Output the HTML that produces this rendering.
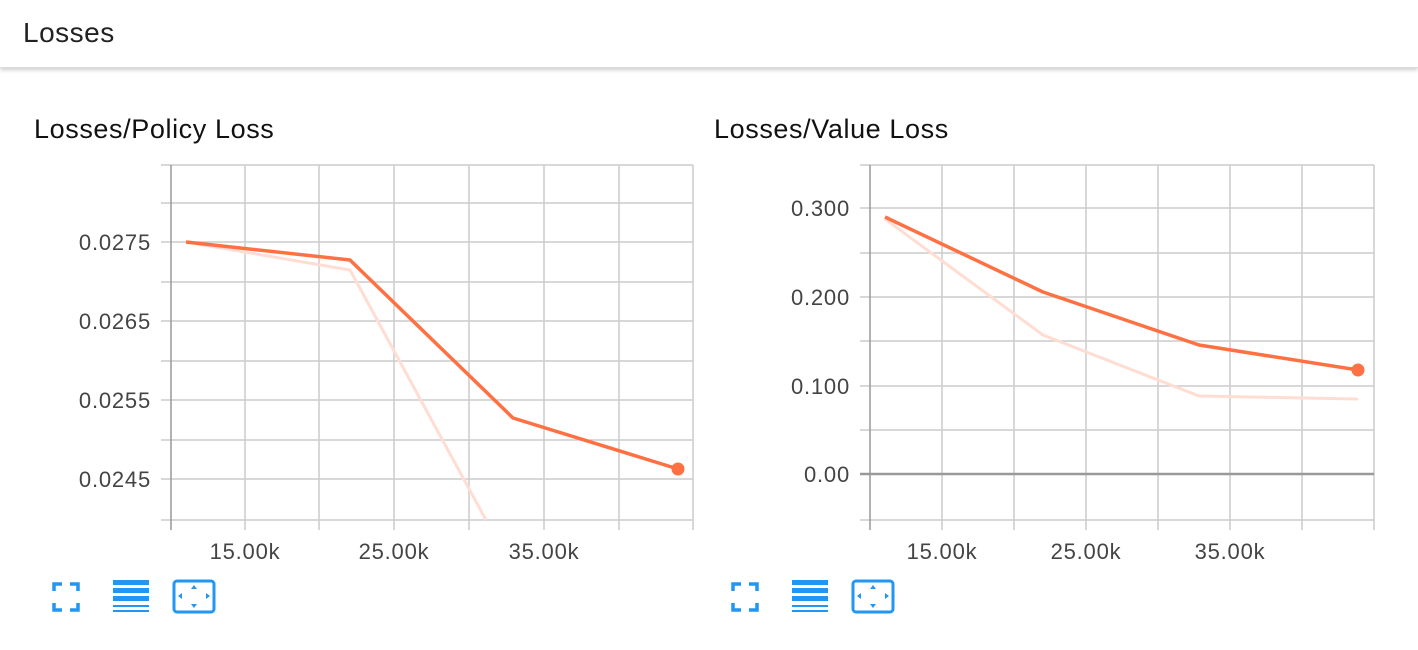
<!DOCTYPE html>
<html><head><style>
body{margin:0;width:1418px;height:650px;background:#fff;font-family:"Liberation Sans",sans-serif;overflow:hidden;position:relative}
.hdr{position:absolute;left:0;top:0;width:1418px;height:67px;background:#fff;box-shadow:0 2px 4px rgba(0,0,0,0.2);border-bottom:1px solid #ddd}
.hdr span{position:absolute;left:23px;top:17px;font-size:28px;color:#222;letter-spacing:0.5px}
</style></head><body>
<div class="hdr"><span>Losses</span></div>
<svg width="1418" height="650" style="position:absolute;left:0;top:0" font-family="Liberation Sans, sans-serif">
<text x="34" y="138" font-size="27" fill="#111" letter-spacing="0.6">Losses/Policy Loss</text>
<text x="714" y="138" font-size="27" fill="#111" letter-spacing="0.6">Losses/Value Loss</text>
<g stroke="#ccc" stroke-width="1.5">
<line x1="245" y1="165" x2="245" y2="530"/><line x1="319" y1="165" x2="319" y2="530"/><line x1="394" y1="165" x2="394" y2="530"/><line x1="469" y1="165" x2="469" y2="530"/><line x1="544" y1="165" x2="544" y2="530"/><line x1="619" y1="165" x2="619" y2="530"/><line x1="693" y1="165" x2="693" y2="530"/>
<line x1="161" y1="165" x2="693" y2="165"/><line x1="161" y1="203" x2="693" y2="203"/><line x1="161" y1="242" x2="693" y2="242"/><line x1="161" y1="282" x2="693" y2="282"/><line x1="161" y1="321" x2="693" y2="321"/><line x1="161" y1="361" x2="693" y2="361"/><line x1="161" y1="400" x2="693" y2="400"/><line x1="161" y1="440" x2="693" y2="440"/><line x1="161" y1="479" x2="693" y2="479"/><line x1="161" y1="520" x2="693" y2="520"/>
<line x1="942" y1="165" x2="942" y2="530"/><line x1="1014" y1="165" x2="1014" y2="530"/><line x1="1086" y1="165" x2="1086" y2="530"/><line x1="1158" y1="165" x2="1158" y2="530"/><line x1="1230" y1="165" x2="1230" y2="530"/><line x1="1302" y1="165" x2="1302" y2="530"/><line x1="1374" y1="165" x2="1374" y2="530"/>
<line x1="860" y1="165" x2="1374" y2="165"/><line x1="860" y1="208" x2="1374" y2="208"/><line x1="860" y1="253" x2="1374" y2="253"/><line x1="860" y1="297" x2="1374" y2="297"/><line x1="860" y1="341" x2="1374" y2="341"/><line x1="860" y1="386" x2="1374" y2="386"/><line x1="860" y1="430" x2="1374" y2="430"/><line x1="860" y1="520" x2="1374" y2="520"/>
</g>
<g stroke="#999" stroke-width="1.5"><line x1="171" y1="165" x2="171" y2="530"/><line x1="870" y1="165" x2="870" y2="530"/></g>
<line x1="860" y1="474" x2="1374" y2="474" stroke="#999" stroke-width="2.5"/>
<g font-size="22" fill="#444" text-anchor="end" letter-spacing="0.8">
<text x="151" y="250">0.0275</text><text x="151" y="329">0.0265</text><text x="151" y="408">0.0255</text><text x="151" y="487">0.0245</text>
<text x="850" y="216">0.300</text><text x="850" y="305">0.200</text><text x="850" y="394">0.100</text><text x="850" y="482">0.00</text>
</g>
<g font-size="22" fill="#444" text-anchor="middle" letter-spacing="0.8">
<text x="245" y="559">15.00k</text><text x="394" y="559">25.00k</text><text x="544" y="559">35.00k</text>
<text x="942" y="559">15.00k</text><text x="1086" y="559">25.00k</text><text x="1230" y="559">35.00k</text>
</g>
<g fill="none" stroke="#ffddd3" stroke-width="3">
<polyline points="186,242 350,270 486,520"/>
<polyline points="885,219 1043,335 1199,396 1358,399"/>
</g>
<g fill="none" stroke="#ff7043" stroke-width="3.5" stroke-linejoin="round">
<polyline points="186,242 350,260 513,418 678,469"/>
<polyline points="885,217 1043,292 1199,345 1358,370"/>
</g>
<circle cx="678" cy="469" r="6.5" fill="#ff7043"/><circle cx="1358" cy="370" r="6.5" fill="#ff7043"/>
<g id="ic">
<g fill="none" stroke="#2196f3" stroke-width="3.5"><path d="M54 591v-7h8M70 584h8v7M78 603v7h-8M62 610h-8v-7"/></g>
<g fill="#2196f3"><rect x="113" y="580" width="36" height="5"/><rect x="113" y="588" width="36" height="5"/><rect x="113" y="596" width="36" height="5"/><rect x="113" y="605" width="36" height="2"/><rect x="113" y="610" width="36" height="2"/></g>
<rect x="174" y="581" width="40" height="31" rx="3" fill="none" stroke="#2196f3" stroke-width="3"/>
<g fill="#2196f3"><path d="M194 585l-3 4h6z"/><path d="M194 608l-3-4h6z"/><path d="M178 596l4-3v6z"/><path d="M210 596l-4-3v6z"/></g>
</g>
<use href="#ic" x="679"/>
</svg>
</body></html>
